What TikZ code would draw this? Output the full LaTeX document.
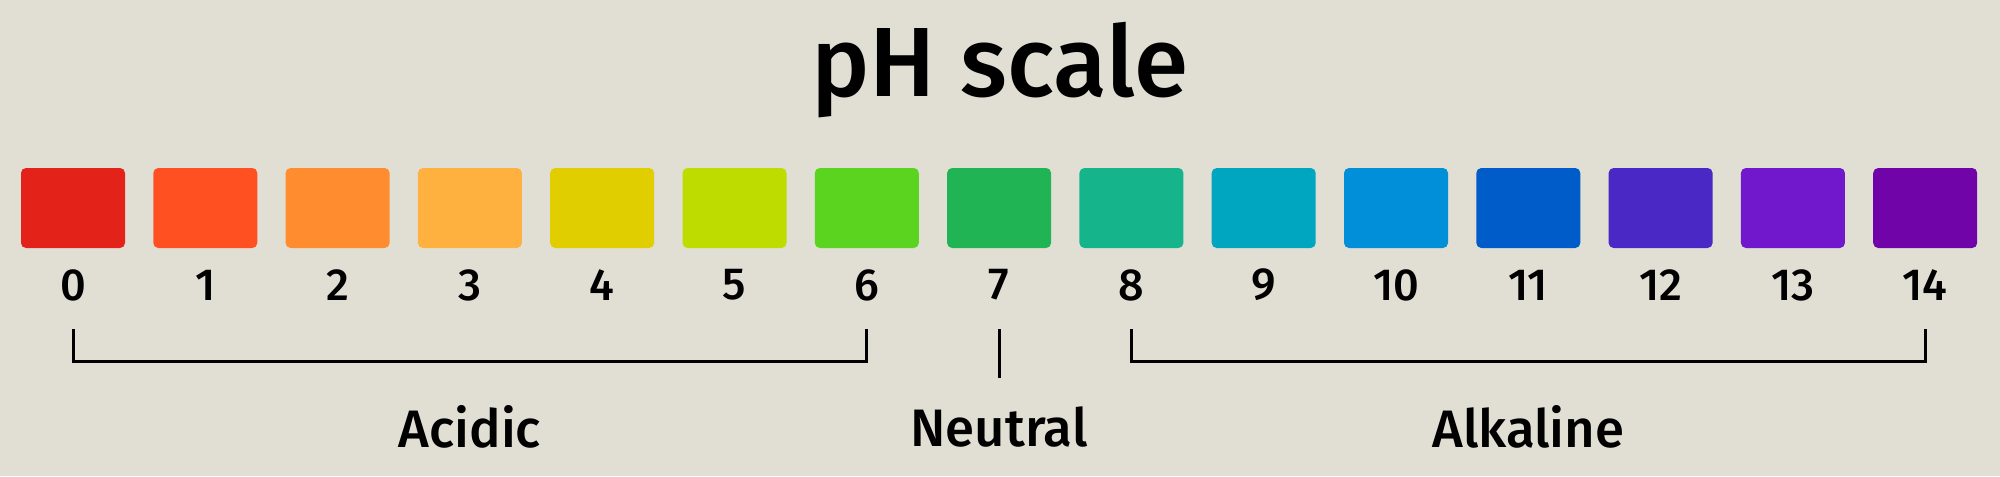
\documentclass[tikz,border=0pt]{standalone}
\usepackage{fontspec}
\setmainfont{Fira Sans}[UprightFont={* Medium}]
\usetikzlibrary{positioning}

\definecolor{bgcol}{HTML}{E1DFD4}
\definecolor{ph0}{HTML}{E32219}
\definecolor{ph1}{HTML}{FF5022}
\definecolor{ph2}{HTML}{FF8C2E}
\definecolor{ph3}{HTML}{FFB140}
\definecolor{ph4}{HTML}{E0CE00}
\definecolor{ph5}{HTML}{BEDC00}
\definecolor{ph6}{HTML}{5BD420}
\definecolor{ph7}{HTML}{20B455}
\definecolor{ph8}{HTML}{16B48B}
\definecolor{ph9}{HTML}{00A6C0}
\definecolor{ph10}{HTML}{008FD8}
\definecolor{ph11}{HTML}{005CC9}
\definecolor{ph12}{HTML}{4A28C6}
\definecolor{ph13}{HTML}{7117CC}
\definecolor{ph14}{HTML}{7104A9}

\tikzset{
  phbox/.style={rectangle, rounded corners=0.05cm, minimum width=1.04cm, minimum height=0.80cm, inner sep=0pt},
  phnum/.style={font=\fontsize{12.8}{14}\selectfont, inner sep=0pt},
  phlabel/.style={font=\fontsize{15}{17}\selectfont, inner sep=0pt},
  bracket/.style={line width=0.03cm}
}

\begin{document}
\begin{tikzpicture}[semithick,node distance=1.323cm]

		\fill[bgcol] (0,0) rectangle (20,-4.76);
		\useasboundingbox (0,0) rectangle (20,-4.76);

		\node(title) at (10,-0.70) {\fontsize{28}{32}\selectfont pH scale};

		\node(b_0) [phbox, fill=ph0] at (0.73,-2.08) {};
		\node(b_1) [phbox, fill=ph1, right of = b_0] {};
		\node(b_2) [phbox, fill=ph2, right of = b_1] {};
		\node(b_3) [phbox, fill=ph3, right of = b_2] {};
		\node(b_4) [phbox, fill=ph4, right of = b_3] {};
		\node(b_5) [phbox, fill=ph5, right of = b_4] {};
		\node(b_6) [phbox, fill=ph6, right of = b_5] {};
		\node(b_7) [phbox, fill=ph7, right of = b_6] {};
		\node(b_8) [phbox, fill=ph8, right of = b_7] {};
		\node(b_9) [phbox, fill=ph9, right of = b_8] {};
		\node(b_10) [phbox, fill=ph10, right of = b_9] {};
		\node(b_11) [phbox, fill=ph11, right of = b_10] {};
		\node(b_12) [phbox, fill=ph12, right of = b_11] {};
		\node(b_13) [phbox, fill=ph13, right of = b_12] {};
		\node(b_14) [phbox, fill=ph14, right of = b_13] {};

		\node(n_0) [phnum, below of = b_0, node distance=0.77cm] {0};
		\node(n_1) [phnum, below of = b_1, node distance=0.77cm] {1};
		\node(n_2) [phnum, below of = b_2, node distance=0.77cm] {2};
		\node(n_3) [phnum, below of = b_3, node distance=0.77cm] {3};
		\node(n_4) [phnum, below of = b_4, node distance=0.77cm] {4};
		\node(n_5) [phnum, below of = b_5, node distance=0.77cm] {5};
		\node(n_6) [phnum, below of = b_6, node distance=0.77cm] {6};
		\node(n_7) [phnum, below of = b_7, node distance=0.77cm] {7};
		\node(n_8) [phnum, below of = b_8, node distance=0.77cm] {8};
		\node(n_9) [phnum, below of = b_9, node distance=0.77cm] {9};
		\node(n_10) [phnum, below of = b_10, node distance=0.77cm] {10};
		\node(n_11) [phnum, below of = b_11, node distance=0.77cm] {11};
		\node(n_12) [phnum, below of = b_12, node distance=0.77cm] {12};
		\node(n_13) [phnum, below of = b_13, node distance=0.77cm] {13};
		\node(n_14) [phnum, below of = b_14, node distance=0.77cm] {14};

		% bracket tops
		\coordinate(t_0) at ([yshift=-0.44cm]n_0.center);
		\coordinate(t_6) at ([yshift=-0.44cm]n_6.center);
		\coordinate(t_7) at ([yshift=-0.44cm]n_7.center);
		\coordinate(t_8) at ([yshift=-0.44cm]n_8.center);
		\coordinate(t_14) at ([yshift=-0.44cm]n_14.center);

		\draw[bracket] (t_0) -- ++(0,-0.32) -| (t_6);
		\draw[bracket] (t_7) -- ++(0,-0.49);
		\draw[bracket] (t_8) -- ++(0,-0.32) -| (t_14);

		\node(acid) [phlabel, below of = n_3, node distance=1.42cm] {Acidic};
		\node(neut) [phlabel, below of = n_7, node distance=1.42cm] {Neutral};
		\node(alka) [phlabel, below of = n_11, node distance=1.42cm] {Alkaline};

	\end{tikzpicture}
\end{document}
